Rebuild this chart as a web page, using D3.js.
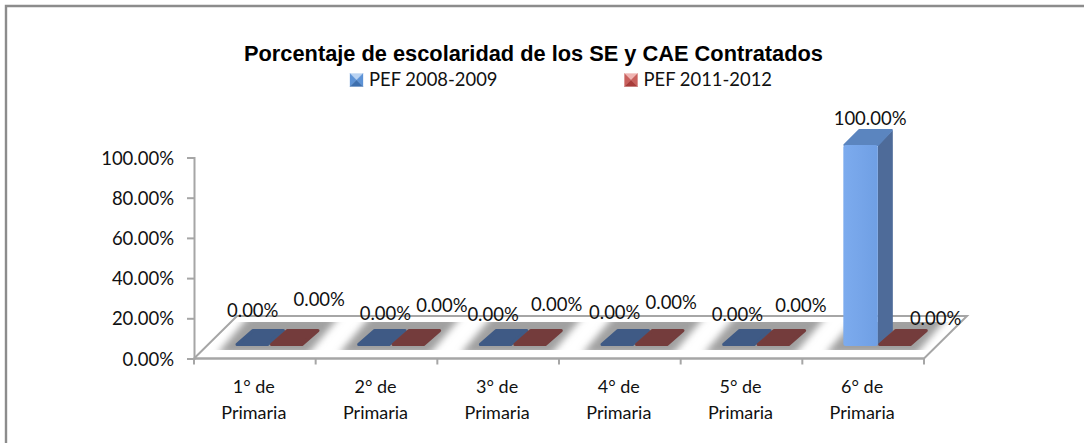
<!DOCTYPE html>
<html><head><meta charset="utf-8">
<script src="https://cdn.jsdelivr.net/npm/d3@7/dist/d3.min.js"></script>
<style>html,body{margin:0;padding:0;background:#fff}svg{display:block}</style>
</head><body><div id="c"></div>
<script>
const categories = ["1° de|Primaria","2° de|Primaria","3° de|Primaria","4° de|Primaria","5° de|Primaria","6° de|Primaria"];
const seriesNames = ["PEF 2008-2009","PEF 2011-2012"];
const pef2008 = [0,0,0,0,0,100];
const pef2011 = [0,0,0,0,0,0];
const yTicks = [0,20,40,60,80,100];
// hand-placed label nudges from the automatic position (dx, dy)
const nudge2008 = [[-7,-1],[4,2],[-10,3],[-10,1],[-9,3],[2,8]];
const nudge2011 = [[25,-12],[26,-6],[19,-7],[12,-9],[20,-6],[33,7]];

const W=1084,H=443;
const svg=d3.select("#c").append("svg").attr("width",W).attr("height",H);
const FONT="Lato, 'Open Sans', sans-serif";
const defs=svg.append("defs");
function grad(id,stops,x2,y2){const g=defs.append("linearGradient").attr("id",id).attr("x1",0).attr("y1",0).attr("x2",x2).attr("y2",y2);
  stops.forEach(([o,c])=>g.append("stop").attr("offset",o).attr("stop-color",c));}
grad("blueFront",[[0,"#7cabee"],[.5,"#76a5e9"],[1,"#6f9fe4"]],1,0);
defs.append("filter").attr("id","soft").attr("x","-30%").attr("y","-60%").attr("width","160%").attr("height","220%")
  .append("feGaussianBlur").attr("stdDeviation",3.5);

const line=d3.line();
// outer frame: only the top and left edges are visible, running off the picture
svg.append("path").attr("d",line([[6,H],[6,6],[W,6]])).attr("fill","none").attr("stroke","#8c8c8c").attr("stroke-width",2.4);

const x0=194,x1=924,y0=358.5,y1=157.5;
const depth=43;
const x=d3.scaleBand().domain(categories).range([x0,x1]);
const y=d3.scaleLinear().domain([0,100]).range([y0,y1]);

// floor
const axisColor="#a6a6a6";
svg.append("path").attr("d",line([[x0,y0],[x0+depth,y0-depth+0.5],[x1+depth,y0-depth+0.5],[x1,y0]])+"Z")
  .attr("fill","#fff").attr("stroke",axisColor).attr("stroke-width",2);

// y axis
const yAxis=d3.axisLeft(y).tickValues(yTicks).tickFormat(d=>d.toFixed(2)+"%").tickSize(7).tickPadding(13);
const gy=svg.append("g").attr("transform",`translate(${x0},0)`).call(yAxis);
gy.selectAll("path,line").attr("stroke",axisColor).attr("stroke-width",2);
gy.selectAll("text").attr("font-family",FONT).attr("font-size",18.5).attr("fill","#111").attr("dy",".36em");

// x axis
const gx=svg.append("g").attr("transform",`translate(0,${y0})`);
gx.append("line").attr("x1",x0).attr("x2",x1).attr("stroke",axisColor).attr("stroke-width",2);
[...categories.map(c=>x(c)),x1].forEach(v=>gx.append("line").attr("x1",v).attr("x2",v).attr("y1",0).attr("y2",6).attr("stroke",axisColor).attr("stroke-width",2));
categories.forEach(c=>{
  const t=gx.append("text").attr("text-anchor","middle").attr("font-family",FONT).attr("font-size",18).attr("fill","#111");
  c.split("|").forEach((s,i)=>t.append("tspan").attr("x",x(c)+x.bandwidth()/2-1).attr("y",i?60.5:34.5).text(s));
});

// bars
const off=12.5, bw=34.5, d=15;
const fmt=v=>v.toFixed(2)+"%";
const marks=svg.append("g");
defs.append("clipPath").attr("id","floorBand").append("rect")
  .attr("x",x0).attr("width",x1-x0+depth).attr("y",y(0)-off-24).attr("height",28);
const shadows=marks.append("g").attr("clip-path","url(#floorBand)");
categories.forEach(c=>{
  const bx=x(c)+41, by=y(0)-off;
  shadows.append("path").attr("d",line([[bx-18,by+8],[bx+bw*2+4,by+8],[bx+bw*2+36,by-30],[bx+14,by-30]])+"Z")
    .attr("fill","#a0a0a0").attr("filter","url(#soft)");
});
function bar(c,i,v,k){
  const bx=x(c)+41+k*bw, by=y(0)-off, h=y(0)-y(v);
  const front=k?"#743c3c":"#3f5a85";
  if(v>0){
    marks.append("path").attr("d",line([[bx+bw,by],[bx+bw+d,by-d],[bx+bw+d,by-h-d],[bx+bw,by-h]])+"Z").attr("fill","#4e6b99");
    marks.append("path").attr("d",line([[bx+1,by-h],[bx+d+1,by-h-d],[bx+bw+d-1,by-h-d],[bx+bw,by-h]])+"Z").attr("fill","#5b85bf").attr("stroke","#5b85bf").attr("stroke-linejoin","round").attr("stroke-width",2);
    marks.append("rect").attr("x",bx).attr("y",by-h).attr("width",bw).attr("height",h).attr("rx",2.5).attr("fill","url(#blueFront)");
  } else {
    marks.append("path").attr("d",line([[bx+2,by-1.5],[bx+d+3,by-d-0.5],[bx+bw+d-1,by-d-0.5],[bx+bw-2,by-1.5]])+"Z").attr("fill",front).attr("stroke",front).attr("stroke-linejoin","round").attr("stroke-width",3);
  }
}
categories.forEach((c,i)=>bar(c,i,pef2008[i],0));
categories.forEach((c,i)=>bar(c,i,pef2011[i],1));

// data labels
function labels(vals,k,nudge){
  vals.forEach((v,i)=>{
    const c=categories[i];
    svg.append("text").attr("text-anchor","middle").attr("font-family",FONT).attr("font-size",18.5).attr("fill","#111")
      .attr("x",x(c)+41+k*bw+bw/2+d/2+nudge[i][0])
      .attr("y",y(v)-off-d-13+nudge[i][1]).text(fmt(v));
  });
}
labels(pef2008,0,nudge2008);
labels(pef2011,1,nudge2011);

// title & legend
svg.append("text").attr("x",533.5).attr("y",61).attr("text-anchor","middle").attr("font-family","'Liberation Sans',Arial,sans-serif")
  .attr("font-weight","bold").attr("font-size",21.8).attr("fill","#000").text("Porcentaje de escolaridad de los SE y CAE Contratados");
const legX=[350,624.5];
const legCols=[["#b9d3f2","#5d93d6","#3d6fae"],["#f0b4b2","#c9605d","#a83c3a"]];
seriesNames.forEach((s,i)=>{
  const m=13,a=legX[i],b=73.5,cx=a+m/2,cy=b+m/2,[lt,md,dk]=legCols[i];
  const tri=(p,f)=>svg.append("path").attr("d",line(p)+"Z").attr("fill",f).attr("stroke",f).attr("stroke-width",.3);
  tri([[a,b],[a+m,b],[cx,cy]],lt);
  tri([[a,b],[a,b+m],[cx,cy]],md);
  tri([[a+m,b],[a+m,b+m],[cx,cy]],md);
  tri([[a,b+m],[a+m,b+m],[cx,cy]],dk);
  svg.append("text").attr("x",a+19).attr("y",86).attr("font-family",FONT).attr("font-size",18.4).attr("fill","#111").text(s);
});
</script></body></html>
